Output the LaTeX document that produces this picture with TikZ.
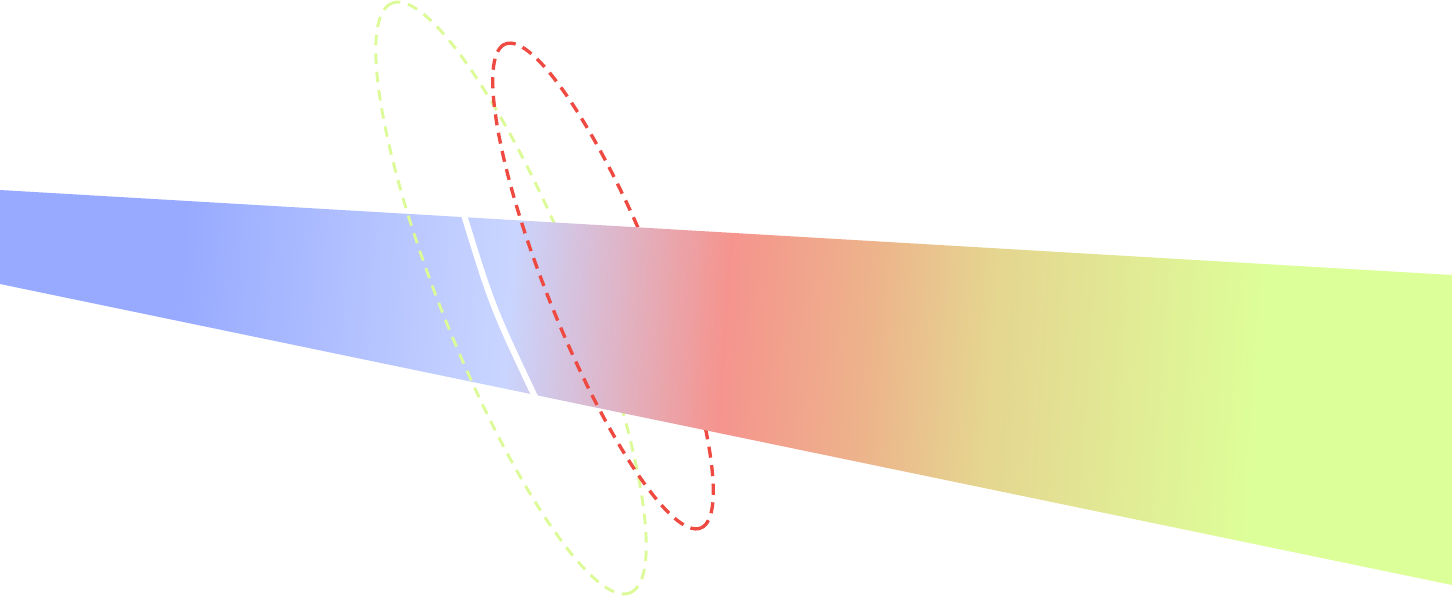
\documentclass[tikz,border=0pt]{standalone}
\usetikzlibrary{calc}
\definecolor{BandBlue}{HTML}{98AAFF}
\definecolor{BandLight}{HTML}{C9D5FF}
\definecolor{BandRed}{HTML}{F5948E}
\definecolor{BandOrange}{HTML}{EDB38B}
\definecolor{BandSand}{HTML}{E5D590}
\definecolor{BandLime}{HTML}{DDFF99}
\definecolor{RingLime}{HTML}{DCFB98}
\definecolor{RingRed}{HTML}{EE4A42}
\pgfdeclarehorizontalshading{bandshade}{100bp}{color(0bp)=(BandBlue); color(30bp)=(BandBlue); color(41.9bp)=(BandLight); color(49.8bp)=(BandRed); color(55bp)=(BandOrange); color(59.4bp)=(BandSand); color(69.4bp)=(BandLime); color(100bp)=(BandLime)}

\begin{document}
\begin{tikzpicture}[
    x=0.02cm, y=0.02cm,
    ring/.style={line width=1.65pt, dash pattern=on 6pt off 4.5pt},
    limering/.style={ring, draw=RingLime},
    redring/.style={ring, draw=RingRed, line width=1.9pt, dash pattern=on 6.3pt off 4.3pt},
    band/.style={shading=bandshade, shading angle=-4},
    slit/.style={draw=white, line width=3.4pt}
]
\useasboundingbox (0,0) rectangle (1452,596);

% --- back halves of the rings (the band hides them) ---
\begin{scope}[shift={(511,298)}, rotate=22]
\draw[limering] (0,-318) arc[start angle=-90, end angle=90, x radius=69, y radius=318];
\end{scope}
\begin{scope}[shift={(603,310)}, rotate=22]
\draw[redring] (0,-261) arc[start angle=-90, end angle=90, x radius=55, y radius=261];
\end{scope}

% --- band ---
\shade[band] (0,406) -- (1452,321) -- (1452,11) -- (0,312) -- cycle;

% slit through the band
\coordinate (slittop) at (462.5,386);
\coordinate (slitbot) at (536,197);
\draw[slit] (slittop) .. controls (492,290) .. (slitbot);

% --- front halves of the rings ---
\begin{scope}[shift={(511,298)}, rotate=22]
\draw[limering] (0,318) arc[start angle=90, end angle=270, x radius=69, y radius=318];
\end{scope}
\begin{scope}[shift={(603,310)}, rotate=22]
\draw[redring] (0,261) arc[start angle=90, end angle=270, x radius=55, y radius=261];
\end{scope}
\end{tikzpicture}
\end{document}
